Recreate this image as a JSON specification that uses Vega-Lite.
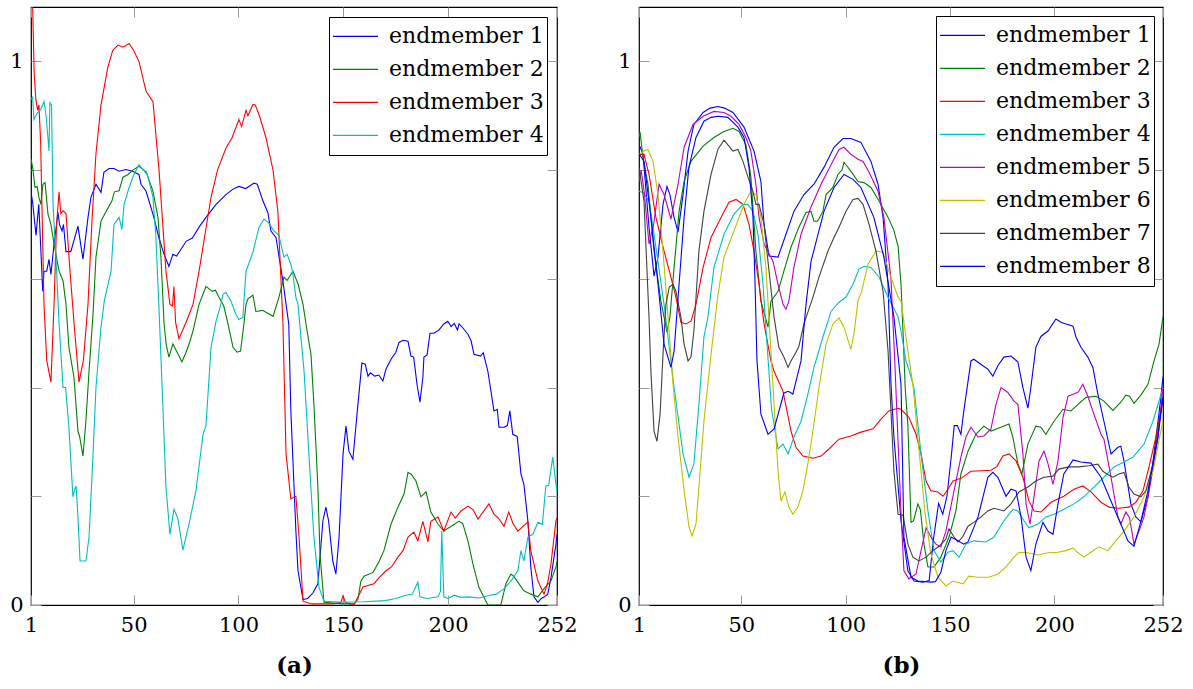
{
"$schema": "https://vega.github.io/schema/vega-lite/v6.json",
"padding": {"left": 9, "top": 3, "right": 0, "bottom": 0},
"background": "white",
"config": {
  "view": {"stroke": "black", "strokeWidth": 1.2},
  "axis": {"grid": false, "domain": false, "tickColor": "#9a9a9a", "tickSize": -10, "tickWidth": 1, "labelFont": "DejaVu Serif", "labelFontSize": 21, "labelColor": "black", "titleFont": "DejaVu Serif", "titleColor": "black"},
  "legend": {"labelFont": "DejaVu Serif", "labelFontSize": 22, "labelColor": "black"}
},
"datasets": {
"a": [
{"s":"endmember 1","x":1,"y":0.76},{"s":"endmember 1","x":1.8,"y":0.74},{"s":"endmember 1","x":3.4,"y":0.68},{"s":"endmember 1","x":4.7,"y":0.737},{"s":"endmember 1","x":6.6,"y":0.577},{"s":"endmember 1","x":7.2,"y":0.614},{"s":"endmember 1","x":8.5,"y":0.614},{"s":"endmember 1","x":9.6,"y":0.636},{"s":"endmember 1","x":10.5,"y":0.608},{"s":"endmember 1","x":12,"y":0.664},{"s":"endmember 1","x":13.9,"y":0.722},{"s":"endmember 1","x":14.6,"y":0.70},{"s":"endmember 1","x":15.8,"y":0.688},{"s":"endmember 1","x":16.5,"y":0.70},{"s":"endmember 1","x":17.7,"y":0.65},{"s":"endmember 1","x":20,"y":0.65},{"s":"endmember 1","x":23.4,"y":0.697},{"s":"endmember 1","x":25.8,"y":0.636},{"s":"endmember 1","x":28.2,"y":0.713},{"s":"endmember 1","x":29.6,"y":0.75},{"s":"endmember 1","x":32,"y":0.774},{"s":"endmember 1","x":34.4,"y":0.759},{"s":"endmember 1","x":35.8,"y":0.796},{"s":"endmember 1","x":38.2,"y":0.803},{"s":"endmember 1","x":40.6,"y":0.803},{"s":"endmember 1","x":43,"y":0.798},{"s":"endmember 1","x":46.3,"y":0.801},{"s":"endmember 1","x":49.5,"y":0.798},{"s":"endmember 1","x":52.5,"y":0.792},{"s":"endmember 1","x":53.5,"y":0.774},{"s":"endmember 1","x":55.9,"y":0.761},{"s":"endmember 1","x":59.2,"y":0.719},{"s":"endmember 1","x":62,"y":0.676},{"s":"endmember 1","x":64.5,"y":0.645},{"s":"endmember 1","x":66.8,"y":0.623},{"s":"endmember 1","x":68.7,"y":0.645},{"s":"endmember 1","x":70.5,"y":0.642},{"s":"endmember 1","x":75,"y":0.669},{"s":"endmember 1","x":78,"y":0.675},{"s":"endmember 1","x":81.2,"y":0.695},{"s":"endmember 1","x":84.5,"y":0.713},{"s":"endmember 1","x":89.3,"y":0.737},{"s":"endmember 1","x":94,"y":0.755},{"s":"endmember 1","x":97.4,"y":0.765},{"s":"endmember 1","x":100.2,"y":0.77},{"s":"endmember 1","x":103.5,"y":0.766},{"s":"endmember 1","x":107.4,"y":0.776},{"s":"endmember 1","x":109,"y":0.774},{"s":"endmember 1","x":111.7,"y":0.743},{"s":"endmember 1","x":114,"y":0.722},{"s":"endmember 1","x":115.5,"y":0.688},{"s":"endmember 1","x":117.9,"y":0.676},{"s":"endmember 1","x":121.2,"y":0.596},{"s":"endmember 1","x":124,"y":0.517},{"s":"endmember 1","x":125,"y":0.357},{"s":"endmember 1","x":127.4,"y":0.136},{"s":"endmember 1","x":128.4,"y":0.063},{"s":"endmember 1","x":130.8,"y":0.01},{"s":"endmember 1","x":133,"y":0.012},{"s":"endmember 1","x":135.5,"y":0.022},{"s":"endmember 1","x":137.9,"y":0.039},{"s":"endmember 1","x":140.3,"y":0.155},{"s":"endmember 1","x":141.7,"y":0.18},{"s":"endmember 1","x":143,"y":0.155},{"s":"endmember 1","x":145,"y":0.081},{"s":"endmember 1","x":146.5,"y":0.057},{"s":"endmember 1","x":148,"y":0.125},{"s":"endmember 1","x":149.9,"y":0.278},{"s":"endmember 1","x":151.3,"y":0.329},{"s":"endmember 1","x":152.7,"y":0.283},{"s":"endmember 1","x":154.6,"y":0.268},{"s":"endmember 1","x":157,"y":0.369},{"s":"endmember 1","x":158.9,"y":0.445},{"s":"endmember 1","x":160.5,"y":0.443},{"s":"endmember 1","x":161.8,"y":0.421},{"s":"endmember 1","x":163,"y":0.427},{"s":"endmember 1","x":165,"y":0.421},{"s":"endmember 1","x":167,"y":0.423},{"s":"endmember 1","x":168.9,"y":0.412},{"s":"endmember 1","x":170.4,"y":0.434},{"s":"endmember 1","x":172.8,"y":0.452},{"s":"endmember 1","x":175.1,"y":0.465},{"s":"endmember 1","x":176.6,"y":0.483},{"s":"endmember 1","x":178.5,"y":0.487},{"s":"endmember 1","x":180.9,"y":0.485},{"s":"endmember 1","x":182.3,"y":0.458},{"s":"endmember 1","x":183.6,"y":0.456},{"s":"endmember 1","x":185.2,"y":0.406},{"s":"endmember 1","x":186.6,"y":0.373},{"s":"endmember 1","x":188,"y":0.419},{"s":"endmember 1","x":188.5,"y":0.456},{"s":"endmember 1","x":190,"y":0.46},{"s":"endmember 1","x":191.4,"y":0.5},{"s":"endmember 1","x":193.3,"y":0.5},{"s":"endmember 1","x":195.7,"y":0.506},{"s":"endmember 1","x":198,"y":0.517},{"s":"endmember 1","x":199.9,"y":0.522},{"s":"endmember 1","x":201.5,"y":0.512},{"s":"endmember 1","x":203,"y":0.518},{"s":"endmember 1","x":204.5,"y":0.506},{"s":"endmember 1","x":205.3,"y":0.517},{"s":"endmember 1","x":207,"y":0.51},{"s":"endmember 1","x":209.5,"y":0.498},{"s":"endmember 1","x":211,"y":0.486},{"s":"endmember 1","x":212.4,"y":0.461},{"s":"endmember 1","x":215.5,"y":0.458},{"s":"endmember 1","x":216.8,"y":0.464},{"s":"endmember 1","x":219,"y":0.43},{"s":"endmember 1","x":220.5,"y":0.393},{"s":"endmember 1","x":221.9,"y":0.357},{"s":"endmember 1","x":223.5,"y":0.36},{"s":"endmember 1","x":224.3,"y":0.327},{"s":"endmember 1","x":226.7,"y":0.327},{"s":"endmember 1","x":228.3,"y":0.33},{"s":"endmember 1","x":229.5,"y":0.357},{"s":"endmember 1","x":230.9,"y":0.314},{"s":"endmember 1","x":233,"y":0.31},{"s":"endmember 1","x":234.8,"y":0.241},{"s":"endmember 1","x":236.2,"y":0.222},{"s":"endmember 1","x":238.1,"y":0.155},{"s":"endmember 1","x":239.5,"y":0.07},{"s":"endmember 1","x":241,"y":0.015},{"s":"endmember 1","x":242.9,"y":0.005},{"s":"endmember 1","x":244.5,"y":0.012},{"s":"endmember 1","x":246,"y":0.015},{"s":"endmember 1","x":247.6,"y":0.02},{"s":"endmember 1","x":249.1,"y":0.05},{"s":"endmember 1","x":251.5,"y":0.112},{"s":"endmember 1","x":252,"y":0.13},
{"s":"endmember 2","x":1,"y":0.82},{"s":"endmember 2","x":1.8,"y":0.805},{"s":"endmember 2","x":2.9,"y":0.768},{"s":"endmember 2","x":3.9,"y":0.77},{"s":"endmember 2","x":4.8,"y":0.75},{"s":"endmember 2","x":5.7,"y":0.737},{"s":"endmember 2","x":6.7,"y":0.774},{"s":"endmember 2","x":7.7,"y":0.777},{"s":"endmember 2","x":9.1,"y":0.719},{"s":"endmember 2","x":10.5,"y":0.70},{"s":"endmember 2","x":12,"y":0.664},{"s":"endmember 2","x":14.4,"y":0.614},{"s":"endmember 2","x":16.3,"y":0.596},{"s":"endmember 2","x":17.7,"y":0.553},{"s":"endmember 2","x":19.1,"y":0.474},{"s":"endmember 2","x":21.5,"y":0.419},{"s":"endmember 2","x":23.4,"y":0.32},{"s":"endmember 2","x":24.2,"y":0.31},{"s":"endmember 2","x":25.8,"y":0.274},{"s":"endmember 2","x":27.2,"y":0.338},{"s":"endmember 2","x":28.7,"y":0.43},{"s":"endmember 2","x":30.6,"y":0.535},{"s":"endmember 2","x":32,"y":0.64},{"s":"endmember 2","x":34.4,"y":0.706},{"s":"endmember 2","x":36.8,"y":0.724},{"s":"endmember 2","x":39.6,"y":0.743},{"s":"endmember 2","x":40.8,"y":0.76},{"s":"endmember 2","x":43,"y":0.762},{"s":"endmember 2","x":44.9,"y":0.787},{"s":"endmember 2","x":47.3,"y":0.792},{"s":"endmember 2","x":49.6,"y":0.80},{"s":"endmember 2","x":52.5,"y":0.807},{"s":"endmember 2","x":54.9,"y":0.80},{"s":"endmember 2","x":56.4,"y":0.792},{"s":"endmember 2","x":59.2,"y":0.761},{"s":"endmember 2","x":61.6,"y":0.713},{"s":"endmember 2","x":63,"y":0.64},{"s":"endmember 2","x":64.5,"y":0.517},{"s":"endmember 2","x":65.5,"y":0.48},{"s":"endmember 2","x":66.8,"y":0.456},{"s":"endmember 2","x":68.7,"y":0.48},{"s":"endmember 2","x":71,"y":0.463},{"s":"endmember 2","x":73,"y":0.447},{"s":"endmember 2","x":75,"y":0.465},{"s":"endmember 2","x":76.4,"y":0.48},{"s":"endmember 2","x":78.3,"y":0.504},{"s":"endmember 2","x":81.2,"y":0.553},{"s":"endmember 2","x":84.5,"y":0.586},{"s":"endmember 2","x":87.5,"y":0.577},{"s":"endmember 2","x":89,"y":0.579},{"s":"endmember 2","x":90.7,"y":0.566},{"s":"endmember 2","x":93,"y":0.55},{"s":"endmember 2","x":95,"y":0.517},{"s":"endmember 2","x":97.4,"y":0.474},{"s":"endmember 2","x":99.3,"y":0.465},{"s":"endmember 2","x":101,"y":0.467},{"s":"endmember 2","x":102.6,"y":0.517},{"s":"endmember 2","x":103.6,"y":0.553},{"s":"endmember 2","x":104.5,"y":0.563},{"s":"endmember 2","x":106.9,"y":0.57},{"s":"endmember 2","x":108.3,"y":0.54},{"s":"endmember 2","x":111.5,"y":0.542},{"s":"endmember 2","x":116.5,"y":0.531},{"s":"endmember 2","x":119.3,"y":0.566},{"s":"endmember 2","x":121.7,"y":0.603},{"s":"endmember 2","x":123.2,"y":0.597},{"s":"endmember 2","x":126,"y":0.614},{"s":"endmember 2","x":128.5,"y":0.59},{"s":"endmember 2","x":130.8,"y":0.553},{"s":"endmember 2","x":132.5,"y":0.51},{"s":"endmember 2","x":134.6,"y":0.461},{"s":"endmember 2","x":136,"y":0.369},{"s":"endmember 2","x":137.9,"y":0.217},{"s":"endmember 2","x":138.9,"y":0.094},{"s":"endmember 2","x":140.8,"y":0.005},{"s":"endmember 2","x":150,"y":0.002},{"s":"endmember 2","x":155,"y":0.002},{"s":"endmember 2","x":157,"y":0.01},{"s":"endmember 2","x":158.4,"y":0.044},{"s":"endmember 2","x":159.9,"y":0.053},{"s":"endmember 2","x":164.2,"y":0.06},{"s":"endmember 2","x":167,"y":0.079},{"s":"endmember 2","x":169.4,"y":0.1},{"s":"endmember 2","x":172.8,"y":0.149},{"s":"endmember 2","x":176.1,"y":0.18},{"s":"endmember 2","x":179,"y":0.204},{"s":"endmember 2","x":180.9,"y":0.244},{"s":"endmember 2","x":182.5,"y":0.24},{"s":"endmember 2","x":184.7,"y":0.228},{"s":"endmember 2","x":187.1,"y":0.199},{"s":"endmember 2","x":189.5,"y":0.208},{"s":"endmember 2","x":191.8,"y":0.171},{"s":"endmember 2","x":195.2,"y":0.149},{"s":"endmember 2","x":198,"y":0.136},{"s":"endmember 2","x":201.5,"y":0.145},{"s":"endmember 2","x":205.2,"y":0.154},{"s":"endmember 2","x":207,"y":0.15},{"s":"endmember 2","x":209.5,"y":0.118},{"s":"endmember 2","x":211.9,"y":0.075},{"s":"endmember 2","x":214.7,"y":0.033},{"s":"endmember 2","x":219,"y":0},{"s":"endmember 2","x":225.2,"y":0},{"s":"endmember 2","x":227.6,"y":0.039},{"s":"endmember 2","x":230,"y":0.057},{"s":"endmember 2","x":231.5,"y":0.052},{"s":"endmember 2","x":236.2,"y":0.026},{"s":"endmember 2","x":239.5,"y":0.02},{"s":"endmember 2","x":242.9,"y":0.015},{"s":"endmember 2","x":245.8,"y":0.03},{"s":"endmember 2","x":249.1,"y":0.044},{"s":"endmember 2","x":251.5,"y":0.07},{"s":"endmember 2","x":252,"y":0.08},
{"s":"endmember 3","x":1,"y":1.1},{"s":"endmember 3","x":1.8,"y":1.1},{"s":"endmember 3","x":2.5,"y":0.98},{"s":"endmember 3","x":3.3,"y":0.93},{"s":"endmember 3","x":4.2,"y":0.91},{"s":"endmember 3","x":4.8,"y":0.92},{"s":"endmember 3","x":5.6,"y":0.85},{"s":"endmember 3","x":7.2,"y":0.553},{"s":"endmember 3","x":8.5,"y":0.45},{"s":"endmember 3","x":10.5,"y":0.41},{"s":"endmember 3","x":12,"y":0.553},{"s":"endmember 3","x":13.2,"y":0.70},{"s":"endmember 3","x":14.4,"y":0.76},{"s":"endmember 3","x":15.2,"y":0.72},{"s":"endmember 3","x":16.3,"y":0.725},{"s":"endmember 3","x":17.7,"y":0.72},{"s":"endmember 3","x":19.5,"y":0.62},{"s":"endmember 3","x":21.5,"y":0.52},{"s":"endmember 3","x":23.9,"y":0.41},{"s":"endmember 3","x":26,"y":0.45},{"s":"endmember 3","x":28.2,"y":0.553},{"s":"endmember 3","x":30,"y":0.70},{"s":"endmember 3","x":32,"y":0.83},{"s":"endmember 3","x":34.4,"y":0.92},{"s":"endmember 3","x":37.7,"y":0.99},{"s":"endmember 3","x":40,"y":1.02},{"s":"endmember 3","x":42.5,"y":1.03},{"s":"endmember 3","x":44.9,"y":1.026},{"s":"endmember 3","x":47.8,"y":1.033},{"s":"endmember 3","x":50,"y":1.02},{"s":"endmember 3","x":52.5,"y":1.0},{"s":"endmember 3","x":55.9,"y":0.945},{"s":"endmember 3","x":59.2,"y":0.926},{"s":"endmember 3","x":62.1,"y":0.80},{"s":"endmember 3","x":65.4,"y":0.614},{"s":"endmember 3","x":67.3,"y":0.553},{"s":"endmember 3","x":68.5,"y":0.55},{"s":"endmember 3","x":69.2,"y":0.586},{"s":"endmember 3","x":70,"y":0.52},{"s":"endmember 3","x":71.6,"y":0.49},{"s":"endmember 3","x":75,"y":0.52},{"s":"endmember 3","x":78.3,"y":0.553},{"s":"endmember 3","x":81.2,"y":0.614},{"s":"endmember 3","x":86.9,"y":0.75},{"s":"endmember 3","x":90,"y":0.80},{"s":"endmember 3","x":94,"y":0.84},{"s":"endmember 3","x":97,"y":0.86},{"s":"endmember 3","x":100.2,"y":0.893},{"s":"endmember 3","x":101.5,"y":0.88},{"s":"endmember 3","x":103.6,"y":0.91},{"s":"endmember 3","x":104.5,"y":0.90},{"s":"endmember 3","x":106.9,"y":0.921},{"s":"endmember 3","x":108,"y":0.92},{"s":"endmember 3","x":110,"y":0.90},{"s":"endmember 3","x":113.1,"y":0.86},{"s":"endmember 3","x":116.5,"y":0.80},{"s":"endmember 3","x":118.8,"y":0.724},{"s":"endmember 3","x":121.2,"y":0.52},{"s":"endmember 3","x":122.7,"y":0.278},{"s":"endmember 3","x":125,"y":0.195},{"s":"endmember 3","x":127.4,"y":0.2},{"s":"endmember 3","x":128.9,"y":0.125},{"s":"endmember 3","x":130.8,"y":0.007},{"s":"endmember 3","x":135,"y":0.002},{"s":"endmember 3","x":140,"y":0.002},{"s":"endmember 3","x":145,"y":0.002},{"s":"endmember 3","x":148.9,"y":0.005},{"s":"endmember 3","x":149.9,"y":0.017},{"s":"endmember 3","x":151,"y":0.005},{"s":"endmember 3","x":155.1,"y":0},{"s":"endmember 3","x":159.4,"y":0.033},{"s":"endmember 3","x":164.6,"y":0.039},{"s":"endmember 3","x":167,"y":0.05},{"s":"endmember 3","x":170.4,"y":0.063},{"s":"endmember 3","x":173,"y":0.07},{"s":"endmember 3","x":176.1,"y":0.088},{"s":"endmember 3","x":178.5,"y":0.1},{"s":"endmember 3","x":180.9,"y":0.125},{"s":"endmember 3","x":183.7,"y":0.134},{"s":"endmember 3","x":185.6,"y":0.118},{"s":"endmember 3","x":188,"y":0.154},{"s":"endmember 3","x":190.4,"y":0.116},{"s":"endmember 3","x":191.8,"y":0.154},{"s":"endmember 3","x":195.2,"y":0.162},{"s":"endmember 3","x":198,"y":0.136},{"s":"endmember 3","x":201.4,"y":0.171},{"s":"endmember 3","x":203.5,"y":0.16},{"s":"endmember 3","x":206.2,"y":0.173},{"s":"endmember 3","x":209.5,"y":0.182},{"s":"endmember 3","x":212,"y":0.175},{"s":"endmember 3","x":214.3,"y":0.158},{"s":"endmember 3","x":219.5,"y":0.186},{"s":"endmember 3","x":221.9,"y":0.167},{"s":"endmember 3","x":224,"y":0.16},{"s":"endmember 3","x":226.7,"y":0.145},{"s":"endmember 3","x":229,"y":0.171},{"s":"endmember 3","x":231,"y":0.15},{"s":"endmember 3","x":233.3,"y":0.136},{"s":"endmember 3","x":238.1,"y":0.153},{"s":"endmember 3","x":239.5,"y":0.1},{"s":"endmember 3","x":242.9,"y":0.044},{"s":"endmember 3","x":245.8,"y":0.02},{"s":"endmember 3","x":247.5,"y":0.04},{"s":"endmember 3","x":249.1,"y":0.075},{"s":"endmember 3","x":251.5,"y":0.155},{"s":"endmember 3","x":252,"y":0.16},
{"s":"endmember 4","x":1,"y":0.93},{"s":"endmember 4","x":1.8,"y":0.934},{"s":"endmember 4","x":2.4,"y":0.893},{"s":"endmember 4","x":4,"y":0.905},{"s":"endmember 4","x":5.5,"y":0.91},{"s":"endmember 4","x":7.2,"y":0.926},{"s":"endmember 4","x":8.2,"y":0.90},{"s":"endmember 4","x":9.6,"y":0.835},{"s":"endmember 4","x":10,"y":0.924},{"s":"endmember 4","x":10.8,"y":0.92},{"s":"endmember 4","x":11.5,"y":0.737},{"s":"endmember 4","x":12.9,"y":0.64},{"s":"endmember 4","x":14.4,"y":0.517},{"s":"endmember 4","x":16.3,"y":0.40},{"s":"endmember 4","x":17.5,"y":0.40},{"s":"endmember 4","x":19.1,"y":0.327},{"s":"endmember 4","x":21,"y":0.199},{"s":"endmember 4","x":21.7,"y":0.21},{"s":"endmember 4","x":22.5,"y":0.219},{"s":"endmember 4","x":23.3,"y":0.17},{"s":"endmember 4","x":24.4,"y":0.081},{"s":"endmember 4","x":27.2,"y":0.081},{"s":"endmember 4","x":28.7,"y":0.125},{"s":"endmember 4","x":30.6,"y":0.278},{"s":"endmember 4","x":32,"y":0.40},{"s":"endmember 4","x":34.4,"y":0.511},{"s":"endmember 4","x":36,"y":0.56},{"s":"endmember 4","x":39.2,"y":0.614},{"s":"endmember 4","x":40.6,"y":0.70},{"s":"endmember 4","x":43,"y":0.713},{"s":"endmember 4","x":44.4,"y":0.691},{"s":"endmember 4","x":45.4,"y":0.737},{"s":"endmember 4","x":47.8,"y":0.768},{"s":"endmember 4","x":50.1,"y":0.792},{"s":"endmember 4","x":52.5,"y":0.81},{"s":"endmember 4","x":54.5,"y":0.80},{"s":"endmember 4","x":56,"y":0.797},{"s":"endmember 4","x":57.3,"y":0.78},{"s":"endmember 4","x":59.2,"y":0.75},{"s":"endmember 4","x":60.6,"y":0.676},{"s":"endmember 4","x":62,"y":0.553},{"s":"endmember 4","x":63.9,"y":0.369},{"s":"endmember 4","x":65.4,"y":0.217},{"s":"endmember 4","x":67.3,"y":0.13},{"s":"endmember 4","x":69.2,"y":0.176},{"s":"endmember 4","x":71,"y":0.16},{"s":"endmember 4","x":73.5,"y":0.101},{"s":"endmember 4","x":76.4,"y":0.149},{"s":"endmember 4","x":79.7,"y":0.21},{"s":"endmember 4","x":83.1,"y":0.314},{"s":"endmember 4","x":84.5,"y":0.33},{"s":"endmember 4","x":86.9,"y":0.474},{"s":"endmember 4","x":89.3,"y":0.522},{"s":"endmember 4","x":91.6,"y":0.553},{"s":"endmember 4","x":92.6,"y":0.572},{"s":"endmember 4","x":94,"y":0.575},{"s":"endmember 4","x":96.4,"y":0.559},{"s":"endmember 4","x":98.8,"y":0.535},{"s":"endmember 4","x":100.2,"y":0.525},{"s":"endmember 4","x":102.1,"y":0.529},{"s":"endmember 4","x":103.6,"y":0.614},{"s":"endmember 4","x":106.9,"y":0.649},{"s":"endmember 4","x":109.8,"y":0.695},{"s":"endmember 4","x":112.2,"y":0.71},{"s":"endmember 4","x":114.6,"y":0.702},{"s":"endmember 4","x":116.9,"y":0.688},{"s":"endmember 4","x":119.3,"y":0.68},{"s":"endmember 4","x":121.7,"y":0.64},{"s":"endmember 4","x":123.2,"y":0.645},{"s":"endmember 4","x":125,"y":0.627},{"s":"endmember 4","x":126,"y":0.608},{"s":"endmember 4","x":127.4,"y":0.566},{"s":"endmember 4","x":128.4,"y":0.553},{"s":"endmember 4","x":131.3,"y":0.43},{"s":"endmember 4","x":133.6,"y":0.278},{"s":"endmember 4","x":136,"y":0.125},{"s":"endmember 4","x":138.4,"y":0.033},{"s":"endmember 4","x":140.8,"y":0.007},{"s":"endmember 4","x":150,"y":0.005},{"s":"endmember 4","x":160,"y":0.006},{"s":"endmember 4","x":170,"y":0.008},{"s":"endmember 4","x":175,"y":0.012},{"s":"endmember 4","x":179,"y":0.017},{"s":"endmember 4","x":183,"y":0.02},{"s":"endmember 4","x":185.6,"y":0.042},{"s":"endmember 4","x":186.6,"y":0.015},{"s":"endmember 4","x":190,"y":0.012},{"s":"endmember 4","x":195.2,"y":0.015},{"s":"endmember 4","x":196.4,"y":0.025},{"s":"endmember 4","x":197,"y":0.136},{"s":"endmember 4","x":198,"y":0.015},{"s":"endmember 4","x":200,"y":0.012},{"s":"endmember 4","x":203,"y":0.018},{"s":"endmember 4","x":206,"y":0.014},{"s":"endmember 4","x":210,"y":0.015},{"s":"endmember 4","x":215,"y":0.013},{"s":"endmember 4","x":220,"y":0.018},{"s":"endmember 4","x":223,"y":0.02},{"s":"endmember 4","x":226.7,"y":0.03},{"s":"endmember 4","x":230,"y":0.044},{"s":"endmember 4","x":233.3,"y":0.063},{"s":"endmember 4","x":234.8,"y":0.1},{"s":"endmember 4","x":236.2,"y":0.081},{"s":"endmember 4","x":238.1,"y":0.125},{"s":"endmember 4","x":240.5,"y":0.13},{"s":"endmember 4","x":242.9,"y":0.152},{"s":"endmember 4","x":245,"y":0.148},{"s":"endmember 4","x":246.7,"y":0.219},{"s":"endmember 4","x":248,"y":0.22},{"s":"endmember 4","x":250,"y":0.272},{"s":"endmember 4","x":251.5,"y":0.222},{"s":"endmember 4","x":252,"y":0.21}
],
"b": [
{"s":"endmember 1","x":1,"y":0.847},{"s":"endmember 1","x":2.9,"y":0.83},{"s":"endmember 1","x":5.8,"y":0.695},{"s":"endmember 1","x":8.2,"y":0.605},{"s":"endmember 1","x":10.1,"y":0.64},{"s":"endmember 1","x":12.5,"y":0.737},{"s":"endmember 1","x":14.4,"y":0.77},{"s":"endmember 1","x":15.8,"y":0.755},{"s":"endmember 1","x":17.8,"y":0.713},{"s":"endmember 1","x":19.7,"y":0.686},{"s":"endmember 1","x":22.1,"y":0.755},{"s":"endmember 1","x":24.5,"y":0.835},{"s":"endmember 1","x":27.3,"y":0.884},{"s":"endmember 1","x":31.7,"y":0.906},{"s":"endmember 1","x":35,"y":0.914},{"s":"endmember 1","x":38.8,"y":0.917},{"s":"endmember 1","x":42,"y":0.914},{"s":"endmember 1","x":46,"y":0.906},{"s":"endmember 1","x":51.3,"y":0.879},{"s":"endmember 1","x":56.1,"y":0.835},{"s":"endmember 1","x":59.4,"y":0.779},{"s":"endmember 1","x":60.9,"y":0.70},{"s":"endmember 1","x":63.3,"y":0.642},{"s":"endmember 1","x":67.6,"y":0.64},{"s":"endmember 1","x":71.4,"y":0.682},{"s":"endmember 1","x":75.2,"y":0.724},{"s":"endmember 1","x":80,"y":0.755},{"s":"endmember 1","x":84.8,"y":0.774},{"s":"endmember 1","x":89.6,"y":0.805},{"s":"endmember 1","x":94.4,"y":0.842},{"s":"endmember 1","x":98.7,"y":0.858},{"s":"endmember 1","x":102.5,"y":0.858},{"s":"endmember 1","x":107.3,"y":0.851},{"s":"endmember 1","x":112.1,"y":0.816},{"s":"endmember 1","x":115.5,"y":0.774},{"s":"endmember 1","x":117.9,"y":0.713},{"s":"endmember 1","x":120.3,"y":0.59},{"s":"endmember 1","x":121.7,"y":0.406},{"s":"endmember 1","x":123.1,"y":0.309},{"s":"endmember 1","x":126.5,"y":0.155},{"s":"endmember 1","x":129.8,"y":0.063},{"s":"endmember 1","x":132.7,"y":0.044},{"s":"endmember 1","x":137,"y":0.042},{"s":"endmember 1","x":140,"y":0.045},{"s":"endmember 1","x":142,"y":0.12},{"s":"endmember 1","x":144.5,"y":0.187},{"s":"endmember 1","x":146.5,"y":0.167},{"s":"endmember 1","x":148.5,"y":0.2},{"s":"endmember 1","x":150.5,"y":0.27},{"s":"endmember 1","x":152,"y":0.33},{"s":"endmember 1","x":153.5,"y":0.33},{"s":"endmember 1","x":155.2,"y":0.314},{"s":"endmember 1","x":156.6,"y":0.357},{"s":"endmember 1","x":160,"y":0.449},{"s":"endmember 1","x":161.4,"y":0.452},{"s":"endmember 1","x":165.7,"y":0.44},{"s":"endmember 1","x":168.1,"y":0.434},{"s":"endmember 1","x":170.5,"y":0.421},{"s":"endmember 1","x":172.9,"y":0.44},{"s":"endmember 1","x":175.8,"y":0.456},{"s":"endmember 1","x":179.2,"y":0.458},{"s":"endmember 1","x":182.5,"y":0.447},{"s":"endmember 1","x":184.9,"y":0.40},{"s":"endmember 1","x":187.3,"y":0.362},{"s":"endmember 1","x":188.7,"y":0.40},{"s":"endmember 1","x":191.1,"y":0.474},{"s":"endmember 1","x":193.5,"y":0.494},{"s":"endmember 1","x":196.9,"y":0.504},{"s":"endmember 1","x":200.7,"y":0.526},{"s":"endmember 1","x":203.1,"y":0.52},{"s":"endmember 1","x":205.5,"y":0.517},{"s":"endmember 1","x":208.9,"y":0.513},{"s":"endmember 1","x":210.3,"y":0.493},{"s":"endmember 1","x":212.7,"y":0.474},{"s":"endmember 1","x":216,"y":0.456},{"s":"endmember 1","x":218.4,"y":0.437},{"s":"endmember 1","x":220.8,"y":0.388},{"s":"endmember 1","x":223.7,"y":0.338},{"s":"endmember 1","x":227.1,"y":0.278},{"s":"endmember 1","x":230.4,"y":0.29},{"s":"endmember 1","x":231.8,"y":0.292},{"s":"endmember 1","x":233.3,"y":0.265},{"s":"endmember 1","x":236.6,"y":0.186},{"s":"endmember 1","x":239,"y":0.162},{"s":"endmember 1","x":241.4,"y":0.153},{"s":"endmember 1","x":244.8,"y":0.199},{"s":"endmember 1","x":247.7,"y":0.278},{"s":"endmember 1","x":251,"y":0.382},{"s":"endmember 1","x":252,"y":0.42},
{"s":"endmember 2","x":1,"y":0.86},{"s":"endmember 2","x":1.5,"y":0.87},{"s":"endmember 2","x":3,"y":0.82},{"s":"endmember 2","x":5.3,"y":0.774},{"s":"endmember 2","x":8.2,"y":0.651},{"s":"endmember 2","x":11.5,"y":0.559},{"s":"endmember 2","x":14.4,"y":0.502},{"s":"endmember 2","x":15.8,"y":0.529},{"s":"endmember 2","x":17.8,"y":0.621},{"s":"endmember 2","x":20.2,"y":0.724},{"s":"endmember 2","x":22.6,"y":0.779},{"s":"endmember 2","x":25.9,"y":0.816},{"s":"endmember 2","x":31.7,"y":0.844},{"s":"endmember 2","x":36.9,"y":0.86},{"s":"endmember 2","x":41.2,"y":0.87},{"s":"endmember 2","x":46,"y":0.877},{"s":"endmember 2","x":48.9,"y":0.871},{"s":"endmember 2","x":52.2,"y":0.847},{"s":"endmember 2","x":54.6,"y":0.787},{"s":"endmember 2","x":57,"y":0.651},{"s":"endmember 2","x":59.4,"y":0.559},{"s":"endmember 2","x":62.8,"y":0.511},{"s":"endmember 2","x":64.2,"y":0.559},{"s":"endmember 2","x":67.6,"y":0.577},{"s":"endmember 2","x":70.4,"y":0.614},{"s":"endmember 2","x":73.8,"y":0.658},{"s":"endmember 2","x":77.6,"y":0.695},{"s":"endmember 2","x":81,"y":0.722},{"s":"endmember 2","x":83.4,"y":0.724},{"s":"endmember 2","x":84.8,"y":0.706},{"s":"endmember 2","x":86.5,"y":0.706},{"s":"endmember 2","x":89.1,"y":0.724},{"s":"endmember 2","x":90.6,"y":0.755},{"s":"endmember 2","x":93.9,"y":0.768},{"s":"endmember 2","x":96.3,"y":0.792},{"s":"endmember 2","x":98.2,"y":0.80},{"s":"endmember 2","x":99.2,"y":0.814},{"s":"endmember 2","x":100.5,"y":0.808},{"s":"endmember 2","x":102.5,"y":0.798},{"s":"endmember 2","x":105.9,"y":0.779},{"s":"endmember 2","x":108.8,"y":0.777},{"s":"endmember 2","x":112.1,"y":0.768},{"s":"endmember 2","x":116,"y":0.743},{"s":"endmember 2","x":120.3,"y":0.713},{"s":"endmember 2","x":123,"y":0.69},{"s":"endmember 2","x":125.1,"y":0.66},{"s":"endmember 2","x":126.5,"y":0.59},{"s":"endmember 2","x":127.5,"y":0.50},{"s":"endmember 2","x":128.5,"y":0.40},{"s":"endmember 2","x":129.8,"y":0.33},{"s":"endmember 2","x":131.3,"y":0.152},{"s":"endmember 2","x":132.5,"y":0.155},{"s":"endmember 2","x":134.6,"y":0.186},{"s":"endmember 2","x":135.8,"y":0.175},{"s":"endmember 2","x":137.5,"y":0.112},{"s":"endmember 2","x":139.4,"y":0.07},{"s":"endmember 2","x":142.3,"y":0.07},{"s":"endmember 2","x":145.6,"y":0.088},{"s":"endmember 2","x":149.5,"y":0.125},{"s":"endmember 2","x":152.8,"y":0.173},{"s":"endmember 2","x":155.2,"y":0.241},{"s":"endmember 2","x":158.6,"y":0.283},{"s":"endmember 2","x":162.4,"y":0.314},{"s":"endmember 2","x":166.2,"y":0.329},{"s":"endmember 2","x":169.6,"y":0.32},{"s":"endmember 2","x":174.4,"y":0.327},{"s":"endmember 2","x":178.2,"y":0.333},{"s":"endmember 2","x":180,"y":0.31},{"s":"endmember 2","x":182.5,"y":0.26},{"s":"endmember 2","x":184.4,"y":0.241},{"s":"endmember 2","x":187.3,"y":0.296},{"s":"endmember 2","x":191.1,"y":0.329},{"s":"endmember 2","x":193.5,"y":0.327},{"s":"endmember 2","x":195.9,"y":0.314},{"s":"endmember 2","x":199.8,"y":0.338},{"s":"endmember 2","x":204.1,"y":0.36},{"s":"endmember 2","x":207.9,"y":0.357},{"s":"endmember 2","x":211.3,"y":0.369},{"s":"endmember 2","x":215.1,"y":0.382},{"s":"endmember 2","x":219.9,"y":0.384},{"s":"endmember 2","x":223.7,"y":0.375},{"s":"endmember 2","x":228,"y":0.358},{"s":"endmember 2","x":231.8,"y":0.373},{"s":"endmember 2","x":234.2,"y":0.386},{"s":"endmember 2","x":236,"y":0.384},{"s":"endmember 2","x":238.1,"y":0.371},{"s":"endmember 2","x":241.4,"y":0.386},{"s":"endmember 2","x":244.8,"y":0.406},{"s":"endmember 2","x":247.7,"y":0.449},{"s":"endmember 2","x":250.1,"y":0.48},{"s":"endmember 2","x":252,"y":0.53},
{"s":"endmember 3","x":1,"y":0.829},{"s":"endmember 3","x":3.4,"y":0.829},{"s":"endmember 3","x":5.8,"y":0.792},{"s":"endmember 3","x":9.1,"y":0.713},{"s":"endmember 3","x":13,"y":0.651},{"s":"endmember 3","x":16.3,"y":0.603},{"s":"endmember 3","x":18.7,"y":0.566},{"s":"endmember 3","x":21.1,"y":0.52},{"s":"endmember 3","x":23.5,"y":0.517},{"s":"endmember 3","x":25.9,"y":0.522},{"s":"endmember 3","x":28.3,"y":0.553},{"s":"endmember 3","x":31.7,"y":0.621},{"s":"endmember 3","x":35.5,"y":0.676},{"s":"endmember 3","x":40.3,"y":0.713},{"s":"endmember 3","x":44.1,"y":0.741},{"s":"endmember 3","x":47.5,"y":0.746},{"s":"endmember 3","x":50.8,"y":0.737},{"s":"endmember 3","x":53.7,"y":0.70},{"s":"endmember 3","x":56.1,"y":0.651},{"s":"endmember 3","x":58.5,"y":0.59},{"s":"endmember 3","x":60.9,"y":0.517},{"s":"endmember 3","x":64.2,"y":0.449},{"s":"endmember 3","x":65.7,"y":0.43},{"s":"endmember 3","x":70,"y":0.393},{"s":"endmember 3","x":73.8,"y":0.32},{"s":"endmember 3","x":76.2,"y":0.29},{"s":"endmember 3","x":79.5,"y":0.274},{"s":"endmember 3","x":84.3,"y":0.27},{"s":"endmember 3","x":88.2,"y":0.274},{"s":"endmember 3","x":92,"y":0.287},{"s":"endmember 3","x":96.8,"y":0.305},{"s":"endmember 3","x":102.5,"y":0.311},{"s":"endmember 3","x":107.3,"y":0.318},{"s":"endmember 3","x":113.1,"y":0.324},{"s":"endmember 3","x":116.9,"y":0.342},{"s":"endmember 3","x":120.7,"y":0.357},{"s":"endmember 3","x":125,"y":0.362},{"s":"endmember 3","x":126.5,"y":0.36},{"s":"endmember 3","x":130.3,"y":0.345},{"s":"endmember 3","x":133.7,"y":0.314},{"s":"endmember 3","x":136.1,"y":0.278},{"s":"endmember 3","x":138.5,"y":0.228},{"s":"endmember 3","x":140.8,"y":0.21},{"s":"endmember 3","x":144.2,"y":0.208},{"s":"endmember 3","x":146.6,"y":0.2},{"s":"endmember 3","x":149,"y":0.213},{"s":"endmember 3","x":151.4,"y":0.228},{"s":"endmember 3","x":155.2,"y":0.233},{"s":"endmember 3","x":160,"y":0.246},{"s":"endmember 3","x":165,"y":0.247},{"s":"endmember 3","x":169.6,"y":0.248},{"s":"endmember 3","x":172.5,"y":0.255},{"s":"endmember 3","x":175.3,"y":0.274},{"s":"endmember 3","x":178.2,"y":0.278},{"s":"endmember 3","x":181.6,"y":0.265},{"s":"endmember 3","x":184.9,"y":0.235},{"s":"endmember 3","x":187.8,"y":0.191},{"s":"endmember 3","x":190.2,"y":0.173},{"s":"endmember 3","x":193.5,"y":0.171},{"s":"endmember 3","x":198.3,"y":0.189},{"s":"endmember 3","x":204.5,"y":0.2},{"s":"endmember 3","x":209.3,"y":0.213},{"s":"endmember 3","x":213.6,"y":0.219},{"s":"endmember 3","x":217.5,"y":0.208},{"s":"endmember 3","x":222.3,"y":0.189},{"s":"endmember 3","x":226.1,"y":0.18},{"s":"endmember 3","x":230.4,"y":0.178},{"s":"endmember 3","x":235.7,"y":0.18},{"s":"endmember 3","x":239,"y":0.189},{"s":"endmember 3","x":242.4,"y":0.21},{"s":"endmember 3","x":245.3,"y":0.254},{"s":"endmember 3","x":248.6,"y":0.309},{"s":"endmember 3","x":252,"y":0.38},
{"s":"endmember 4","x":1,"y":0.761},{"s":"endmember 4","x":2.9,"y":0.759},{"s":"endmember 4","x":5.8,"y":0.743},{"s":"endmember 4","x":8.2,"y":0.682},{"s":"endmember 4","x":10.5,"y":0.62},{"s":"endmember 4","x":13,"y":0.553},{"s":"endmember 4","x":17.8,"y":0.40},{"s":"endmember 4","x":22.1,"y":0.278},{"s":"endmember 4","x":25,"y":0.235},{"s":"endmember 4","x":27.3,"y":0.26},{"s":"endmember 4","x":29.7,"y":0.369},{"s":"endmember 4","x":32.1,"y":0.493},{"s":"endmember 4","x":34,"y":0.529},{"s":"endmember 4","x":36.9,"y":0.621},{"s":"endmember 4","x":41.7,"y":0.682},{"s":"endmember 4","x":46.5,"y":0.719},{"s":"endmember 4","x":50.8,"y":0.737},{"s":"endmember 4","x":53.2,"y":0.737},{"s":"endmember 4","x":55.6,"y":0.724},{"s":"endmember 4","x":58,"y":0.682},{"s":"endmember 4","x":60.4,"y":0.59},{"s":"endmember 4","x":62.5,"y":0.47},{"s":"endmember 4","x":64.5,"y":0.36},{"s":"endmember 4","x":67.6,"y":0.287},{"s":"endmember 4","x":70,"y":0.296},{"s":"endmember 4","x":72.4,"y":0.278},{"s":"endmember 4","x":75.2,"y":0.309},{"s":"endmember 4","x":78.6,"y":0.338},{"s":"endmember 4","x":81.9,"y":0.388},{"s":"endmember 4","x":84.8,"y":0.437},{"s":"endmember 4","x":89.1,"y":0.493},{"s":"endmember 4","x":93,"y":0.54},{"s":"endmember 4","x":96.8,"y":0.557},{"s":"endmember 4","x":100.1,"y":0.566},{"s":"endmember 4","x":103.5,"y":0.59},{"s":"endmember 4","x":106.4,"y":0.618},{"s":"endmember 4","x":108.8,"y":0.623},{"s":"endmember 4","x":112.1,"y":0.621},{"s":"endmember 4","x":116,"y":0.603},{"s":"endmember 4","x":120.3,"y":0.566},{"s":"endmember 4","x":125.1,"y":0.53},{"s":"endmember 4","x":126.5,"y":0.504},{"s":"endmember 4","x":128.9,"y":0.449},{"s":"endmember 4","x":130.5,"y":0.43},{"s":"endmember 4","x":132.7,"y":0.40},{"s":"endmember 4","x":136.1,"y":0.278},{"s":"endmember 4","x":139.4,"y":0.173},{"s":"endmember 4","x":142.3,"y":0.1},{"s":"endmember 4","x":145.6,"y":0.079},{"s":"endmember 4","x":149,"y":0.097},{"s":"endmember 4","x":151.4,"y":0.1},{"s":"endmember 4","x":154.3,"y":0.088},{"s":"endmember 4","x":157.6,"y":0.112},{"s":"endmember 4","x":161.4,"y":0.118},{"s":"endmember 4","x":167.2,"y":0.116},{"s":"endmember 4","x":171,"y":0.125},{"s":"endmember 4","x":175.8,"y":0.155},{"s":"endmember 4","x":180.1,"y":0.176},{"s":"endmember 4","x":182.5,"y":0.173},{"s":"endmember 4","x":185.4,"y":0.155},{"s":"endmember 4","x":187.8,"y":0.142},{"s":"endmember 4","x":192.1,"y":0.149},{"s":"endmember 4","x":195.9,"y":0.162},{"s":"endmember 4","x":199.8,"y":0.167},{"s":"endmember 4","x":204.5,"y":0.176},{"s":"endmember 4","x":209.3,"y":0.186},{"s":"endmember 4","x":214.1,"y":0.199},{"s":"endmember 4","x":218.9,"y":0.217},{"s":"endmember 4","x":223.7,"y":0.235},{"s":"endmember 4","x":228.5,"y":0.254},{"s":"endmember 4","x":233.3,"y":0.263},{"s":"endmember 4","x":237.6,"y":0.272},{"s":"endmember 4","x":242.9,"y":0.296},{"s":"endmember 4","x":247.2,"y":0.338},{"s":"endmember 4","x":252,"y":0.40},
{"s":"endmember 5","x":1,"y":0.779},{"s":"endmember 5","x":2,"y":0.80},{"s":"endmember 5","x":3.5,"y":0.76},{"s":"endmember 5","x":5.8,"y":0.664},{"s":"endmember 5","x":8,"y":0.70},{"s":"endmember 5","x":10.6,"y":0.774},{"s":"endmember 5","x":13,"y":0.755},{"s":"endmember 5","x":16.3,"y":0.71},{"s":"endmember 5","x":19.7,"y":0.774},{"s":"endmember 5","x":22.6,"y":0.842},{"s":"endmember 5","x":26.9,"y":0.884},{"s":"endmember 5","x":31.7,"y":0.899},{"s":"endmember 5","x":36.9,"y":0.908},{"s":"endmember 5","x":41.7,"y":0.906},{"s":"endmember 5","x":45.1,"y":0.899},{"s":"endmember 5","x":48.9,"y":0.884},{"s":"endmember 5","x":52.2,"y":0.86},{"s":"endmember 5","x":54.6,"y":0.835},{"s":"endmember 5","x":57,"y":0.774},{"s":"endmember 5","x":58.5,"y":0.713},{"s":"endmember 5","x":60.9,"y":0.664},{"s":"endmember 5","x":65.2,"y":0.632},{"s":"endmember 5","x":67.6,"y":0.59},{"s":"endmember 5","x":70,"y":0.553},{"s":"endmember 5","x":71.4,"y":0.544},{"s":"endmember 5","x":72.8,"y":0.559},{"s":"endmember 5","x":75.2,"y":0.621},{"s":"endmember 5","x":78.6,"y":0.682},{"s":"endmember 5","x":83.4,"y":0.732},{"s":"endmember 5","x":88.2,"y":0.774},{"s":"endmember 5","x":93,"y":0.81},{"s":"endmember 5","x":96.8,"y":0.838},{"s":"endmember 5","x":99.2,"y":0.842},{"s":"endmember 5","x":102.5,"y":0.829},{"s":"endmember 5","x":105.9,"y":0.82},{"s":"endmember 5","x":108.3,"y":0.816},{"s":"endmember 5","x":111.2,"y":0.796},{"s":"endmember 5","x":115.5,"y":0.761},{"s":"endmember 5","x":118.3,"y":0.713},{"s":"endmember 5","x":121.7,"y":0.6},{"s":"endmember 5","x":123.5,"y":0.45},{"s":"endmember 5","x":125.1,"y":0.30},{"s":"endmember 5","x":126.5,"y":0.17},{"s":"endmember 5","x":127.9,"y":0.063},{"s":"endmember 5","x":130.3,"y":0.048},{"s":"endmember 5","x":133.7,"y":0.057},{"s":"endmember 5","x":136.1,"y":0.1},{"s":"endmember 5","x":138.5,"y":0.142},{"s":"endmember 5","x":140.8,"y":0.125},{"s":"endmember 5","x":143.2,"y":0.112},{"s":"endmember 5","x":145.6,"y":0.107},{"s":"endmember 5","x":148,"y":0.136},{"s":"endmember 5","x":151.9,"y":0.21},{"s":"endmember 5","x":155.2,"y":0.272},{"s":"endmember 5","x":157.6,"y":0.309},{"s":"endmember 5","x":160,"y":0.327},{"s":"endmember 5","x":163.4,"y":0.309},{"s":"endmember 5","x":166.2,"y":0.311},{"s":"endmember 5","x":169.6,"y":0.324},{"s":"endmember 5","x":172,"y":0.369},{"s":"endmember 5","x":174.4,"y":0.40},{"s":"endmember 5","x":177.7,"y":0.391},{"s":"endmember 5","x":180.6,"y":0.375},{"s":"endmember 5","x":182.5,"y":0.369},{"s":"endmember 5","x":184.9,"y":0.278},{"s":"endmember 5","x":186.4,"y":0.186},{"s":"endmember 5","x":188.3,"y":0.149},{"s":"endmember 5","x":190.2,"y":0.199},{"s":"endmember 5","x":192.6,"y":0.265},{"s":"endmember 5","x":195,"y":0.283},{"s":"endmember 5","x":196.9,"y":0.26},{"s":"endmember 5","x":199.3,"y":0.222},{"s":"endmember 5","x":201.7,"y":0.265},{"s":"endmember 5","x":204.1,"y":0.345},{"s":"endmember 5","x":206.5,"y":0.384},{"s":"endmember 5","x":209.3,"y":0.388},{"s":"endmember 5","x":211.5,"y":0.392},{"s":"endmember 5","x":213.6,"y":0.406},{"s":"endmember 5","x":216,"y":0.384},{"s":"endmember 5","x":218.9,"y":0.351},{"s":"endmember 5","x":222.3,"y":0.314},{"s":"endmember 5","x":223.7,"y":0.305},{"s":"endmember 5","x":227.1,"y":0.235},{"s":"endmember 5","x":230.4,"y":0.162},{"s":"endmember 5","x":231.8,"y":0.149},{"s":"endmember 5","x":234.2,"y":0.171},{"s":"endmember 5","x":236,"y":0.16},{"s":"endmember 5","x":238.1,"y":0.112},{"s":"endmember 5","x":240.5,"y":0.136},{"s":"endmember 5","x":242.9,"y":0.162},{"s":"endmember 5","x":246.2,"y":0.228},{"s":"endmember 5","x":249.6,"y":0.309},{"s":"endmember 5","x":252,"y":0.40},
{"s":"endmember 6","x":1,"y":0.829},{"s":"endmember 6","x":3.4,"y":0.835},{"s":"endmember 6","x":5.3,"y":0.838},{"s":"endmember 6","x":7.7,"y":0.816},{"s":"endmember 6","x":10.1,"y":0.755},{"s":"endmember 6","x":12.5,"y":0.651},{"s":"endmember 6","x":14.9,"y":0.53},{"s":"endmember 6","x":17.3,"y":0.406},{"s":"endmember 6","x":19.7,"y":0.309},{"s":"endmember 6","x":22.6,"y":0.21},{"s":"endmember 6","x":25,"y":0.143},{"s":"endmember 6","x":26.4,"y":0.127},{"s":"endmember 6","x":28.3,"y":0.149},{"s":"endmember 6","x":29.7,"y":0.217},{"s":"endmember 6","x":32.1,"y":0.338},{"s":"endmember 6","x":35.5,"y":0.461},{"s":"endmember 6","x":38.8,"y":0.57},{"s":"endmember 6","x":41.7,"y":0.64},{"s":"endmember 6","x":46.5,"y":0.688},{"s":"endmember 6","x":51.3,"y":0.737},{"s":"endmember 6","x":54.6,"y":0.761},{"s":"endmember 6","x":57,"y":0.755},{"s":"endmember 6","x":59.4,"y":0.713},{"s":"endmember 6","x":61.8,"y":0.621},{"s":"endmember 6","x":64.2,"y":0.467},{"s":"endmember 6","x":65.7,"y":0.369},{"s":"endmember 6","x":67.6,"y":0.246},{"s":"endmember 6","x":69,"y":0.191},{"s":"endmember 6","x":70.9,"y":0.208},{"s":"endmember 6","x":72.8,"y":0.18},{"s":"endmember 6","x":74.7,"y":0.167},{"s":"endmember 6","x":77.1,"y":0.18},{"s":"endmember 6","x":79.5,"y":0.21},{"s":"endmember 6","x":81.9,"y":0.26},{"s":"endmember 6","x":84.3,"y":0.32},{"s":"endmember 6","x":87.2,"y":0.40},{"s":"endmember 6","x":90.6,"y":0.48},{"s":"endmember 6","x":93.9,"y":0.517},{"s":"endmember 6","x":96.8,"y":0.528},{"s":"endmember 6","x":99.2,"y":0.511},{"s":"endmember 6","x":102.5,"y":0.47},{"s":"endmember 6","x":104,"y":0.50},{"s":"endmember 6","x":105.9,"y":0.56},{"s":"endmember 6","x":107.5,"y":0.575},{"s":"endmember 6","x":110.7,"y":0.627},{"s":"endmember 6","x":114.5,"y":0.651},{"s":"endmember 6","x":117.9,"y":0.649},{"s":"endmember 6","x":120.7,"y":0.614},{"s":"endmember 6","x":125.1,"y":0.566},{"s":"endmember 6","x":126.5,"y":0.559},{"s":"endmember 6","x":129.8,"y":0.467},{"s":"endmember 6","x":132.2,"y":0.406},{"s":"endmember 6","x":134,"y":0.33},{"s":"endmember 6","x":136,"y":0.25},{"s":"endmember 6","x":138,"y":0.17},{"s":"endmember 6","x":140.8,"y":0.094},{"s":"endmember 6","x":144.2,"y":0.051},{"s":"endmember 6","x":148,"y":0.035},{"s":"endmember 6","x":151.4,"y":0.044},{"s":"endmember 6","x":156.2,"y":0.039},{"s":"endmember 6","x":159,"y":0.053},{"s":"endmember 6","x":163.4,"y":0.051},{"s":"endmember 6","x":168.6,"y":0.051},{"s":"endmember 6","x":172.9,"y":0.057},{"s":"endmember 6","x":176.8,"y":0.07},{"s":"endmember 6","x":180.6,"y":0.088},{"s":"endmember 6","x":183,"y":0.097},{"s":"endmember 6","x":187.3,"y":0.096},{"s":"endmember 6","x":192.1,"y":0.092},{"s":"endmember 6","x":196.9,"y":0.096},{"s":"endmember 6","x":201.7,"y":0.097},{"s":"endmember 6","x":205.5,"y":0.1},{"s":"endmember 6","x":208.9,"y":0.105},{"s":"endmember 6","x":211,"y":0.097},{"s":"endmember 6","x":214.1,"y":0.088},{"s":"endmember 6","x":217.5,"y":0.097},{"s":"endmember 6","x":221.3,"y":0.107},{"s":"endmember 6","x":225.6,"y":0.1},{"s":"endmember 6","x":229.4,"y":0.118},{"s":"endmember 6","x":233.3,"y":0.136},{"s":"endmember 6","x":238.1,"y":0.162},{"s":"endmember 6","x":242.9,"y":0.199},{"s":"endmember 6","x":247.2,"y":0.246},{"s":"endmember 6","x":252,"y":0.34},
{"s":"endmember 7","x":1,"y":0.805},{"s":"endmember 7","x":3.4,"y":0.743},{"s":"endmember 7","x":5.8,"y":0.529},{"s":"endmember 7","x":6.7,"y":0.43},{"s":"endmember 7","x":8.2,"y":0.32},{"s":"endmember 7","x":9.6,"y":0.301},{"s":"endmember 7","x":11.1,"y":0.351},{"s":"endmember 7","x":12.5,"y":0.461},{"s":"endmember 7","x":13.9,"y":0.553},{"s":"endmember 7","x":15.5,"y":0.585},{"s":"endmember 7","x":17.3,"y":0.59},{"s":"endmember 7","x":18.7,"y":0.577},{"s":"endmember 7","x":21.1,"y":0.529},{"s":"endmember 7","x":22.6,"y":0.48},{"s":"endmember 7","x":24.5,"y":0.449},{"s":"endmember 7","x":25.9,"y":0.456},{"s":"endmember 7","x":27.3,"y":0.504},{"s":"endmember 7","x":29.7,"y":0.651},{"s":"endmember 7","x":32.1,"y":0.724},{"s":"endmember 7","x":35.5,"y":0.792},{"s":"endmember 7","x":38.8,"y":0.838},{"s":"endmember 7","x":41.7,"y":0.855},{"s":"endmember 7","x":44.1,"y":0.844},{"s":"endmember 7","x":46,"y":0.835},{"s":"endmember 7","x":48.4,"y":0.838},{"s":"endmember 7","x":50.8,"y":0.816},{"s":"endmember 7","x":53.2,"y":0.787},{"s":"endmember 7","x":55.6,"y":0.761},{"s":"endmember 7","x":57,"y":0.737},{"s":"endmember 7","x":58.5,"y":0.737},{"s":"endmember 7","x":60.9,"y":0.70},{"s":"endmember 7","x":63.3,"y":0.614},{"s":"endmember 7","x":65.7,"y":0.529},{"s":"endmember 7","x":68,"y":0.474},{"s":"endmember 7","x":70.4,"y":0.456},{"s":"endmember 7","x":72.4,"y":0.437},{"s":"endmember 7","x":73.8,"y":0.449},{"s":"endmember 7","x":76.2,"y":0.465},{"s":"endmember 7","x":77.6,"y":0.476},{"s":"endmember 7","x":80,"y":0.517},{"s":"endmember 7","x":84.3,"y":0.566},{"s":"endmember 7","x":87.2,"y":0.603},{"s":"endmember 7","x":91.5,"y":0.651},{"s":"endmember 7","x":94.4,"y":0.676},{"s":"endmember 7","x":96.8,"y":0.695},{"s":"endmember 7","x":100.1,"y":0.724},{"s":"endmember 7","x":103.5,"y":0.746},{"s":"endmember 7","x":105.9,"y":0.748},{"s":"endmember 7","x":108.3,"y":0.737},{"s":"endmember 7","x":111.2,"y":0.70},{"s":"endmember 7","x":114.5,"y":0.651},{"s":"endmember 7","x":117.9,"y":0.577},{"s":"endmember 7","x":120.3,"y":0.467},{"s":"endmember 7","x":123.1,"y":0.246},{"s":"endmember 7","x":125.1,"y":0.167},{"s":"endmember 7","x":127.5,"y":0.165},{"s":"endmember 7","x":129.8,"y":0.112},{"s":"endmember 7","x":132.2,"y":0.088},{"s":"endmember 7","x":135.1,"y":0.081},{"s":"endmember 7","x":138.5,"y":0.088},{"s":"endmember 7","x":141.8,"y":0.1},{"s":"endmember 7","x":144.7,"y":0.108},{"s":"endmember 7","x":148,"y":0.121},{"s":"endmember 7","x":149.5,"y":0.14},{"s":"endmember 7","x":151.9,"y":0.125},{"s":"endmember 7","x":153.8,"y":0.116},{"s":"endmember 7","x":156,"y":0.125},{"s":"endmember 7","x":158.6,"y":0.145},{"s":"endmember 7","x":161.4,"y":0.152},{"s":"endmember 7","x":164.8,"y":0.162},{"s":"endmember 7","x":168.1,"y":0.173},{"s":"endmember 7","x":171,"y":0.178},{"s":"endmember 7","x":175.8,"y":0.173},{"s":"endmember 7","x":179.2,"y":0.186},{"s":"endmember 7","x":183,"y":0.208},{"s":"endmember 7","x":187.3,"y":0.217},{"s":"endmember 7","x":191.1,"y":0.228},{"s":"endmember 7","x":195,"y":0.235},{"s":"endmember 7","x":199.3,"y":0.237},{"s":"endmember 7","x":202.1,"y":0.25},{"s":"endmember 7","x":206.9,"y":0.254},{"s":"endmember 7","x":211.7,"y":0.254},{"s":"endmember 7","x":216.5,"y":0.256},{"s":"endmember 7","x":220.8,"y":0.259},{"s":"endmember 7","x":223.2,"y":0.246},{"s":"endmember 7","x":225.5,"y":0.24},{"s":"endmember 7","x":228,"y":0.235},{"s":"endmember 7","x":230.9,"y":0.241},{"s":"endmember 7","x":233.3,"y":0.244},{"s":"endmember 7","x":235.7,"y":0.217},{"s":"endmember 7","x":238.1,"y":0.204},{"s":"endmember 7","x":241.4,"y":0.199},{"s":"endmember 7","x":243.8,"y":0.21},{"s":"endmember 7","x":247.2,"y":0.259},{"s":"endmember 7","x":252,"y":0.382},
{"s":"endmember 8","x":1,"y":0.83},{"s":"endmember 8","x":3.4,"y":0.816},{"s":"endmember 8","x":6.7,"y":0.713},{"s":"endmember 8","x":10.1,"y":0.59},{"s":"endmember 8","x":13,"y":0.48},{"s":"endmember 8","x":16.3,"y":0.437},{"s":"endmember 8","x":17.8,"y":0.467},{"s":"endmember 8","x":20.2,"y":0.59},{"s":"endmember 8","x":22.6,"y":0.713},{"s":"endmember 8","x":24.9,"y":0.805},{"s":"endmember 8","x":28.3,"y":0.86},{"s":"endmember 8","x":32.1,"y":0.89},{"s":"endmember 8","x":35.5,"y":0.897},{"s":"endmember 8","x":38.8,"y":0.899},{"s":"endmember 8","x":43.6,"y":0.897},{"s":"endmember 8","x":48.4,"y":0.879},{"s":"endmember 8","x":51.3,"y":0.86},{"s":"endmember 8","x":53.7,"y":0.805},{"s":"endmember 8","x":55.6,"y":0.713},{"s":"endmember 8","x":56.6,"y":0.59},{"s":"endmember 8","x":57.5,"y":0.45},{"s":"endmember 8","x":59.4,"y":0.351},{"s":"endmember 8","x":62.8,"y":0.314},{"s":"endmember 8","x":65.7,"y":0.324},{"s":"endmember 8","x":70.4,"y":0.39},{"s":"endmember 8","x":72.5,"y":0.393},{"s":"endmember 8","x":74.7,"y":0.388},{"s":"endmember 8","x":78.6,"y":0.449},{"s":"endmember 8","x":81,"y":0.553},{"s":"endmember 8","x":83.4,"y":0.632},{"s":"endmember 8","x":89.6,"y":0.724},{"s":"endmember 8","x":94.4,"y":0.768},{"s":"endmember 8","x":99.2,"y":0.792},{"s":"endmember 8","x":103.5,"y":0.783},{"s":"endmember 8","x":107.3,"y":0.768},{"s":"endmember 8","x":113.5,"y":0.713},{"s":"endmember 8","x":118.3,"y":0.64},{"s":"endmember 8","x":123.1,"y":0.53},{"s":"endmember 8","x":126.5,"y":0.406},{"s":"endmember 8","x":127.2,"y":0.27},{"s":"endmember 8","x":127.9,"y":0.125},{"s":"endmember 8","x":131.3,"y":0.051},{"s":"endmember 8","x":134.6,"y":0.044},{"s":"endmember 8","x":140.8,"y":0.042},{"s":"endmember 8","x":143,"y":0.043},{"s":"endmember 8","x":145.6,"y":0.06},{"s":"endmember 8","x":148,"y":0.10},{"s":"endmember 8","x":150.5,"y":0.125},{"s":"endmember 8","x":153.8,"y":0.118},{"s":"endmember 8","x":156.5,"y":0.112},{"s":"endmember 8","x":158.6,"y":0.116},{"s":"endmember 8","x":163.4,"y":0.162},{"s":"endmember 8","x":168.1,"y":0.235},{"s":"endmember 8","x":170.5,"y":0.244},{"s":"endmember 8","x":172.9,"y":0.235},{"s":"endmember 8","x":176.8,"y":0.2},{"s":"endmember 8","x":179.2,"y":0.213},{"s":"endmember 8","x":181.6,"y":0.21},{"s":"endmember 8","x":184,"y":0.162},{"s":"endmember 8","x":186.4,"y":0.088},{"s":"endmember 8","x":188.7,"y":0.063},{"s":"endmember 8","x":191.1,"y":0.112},{"s":"endmember 8","x":194.5,"y":0.152},{"s":"endmember 8","x":196.9,"y":0.136},{"s":"endmember 8","x":199.3,"y":0.13},{"s":"endmember 8","x":201.7,"y":0.186},{"s":"endmember 8","x":204.5,"y":0.241},{"s":"endmember 8","x":208.9,"y":0.267},{"s":"endmember 8","x":212.7,"y":0.263},{"s":"endmember 8","x":217.5,"y":0.261},{"s":"endmember 8","x":222.3,"y":0.235},{"s":"endmember 8","x":227.1,"y":0.191},{"s":"endmember 8","x":231.8,"y":0.149},{"s":"endmember 8","x":235.2,"y":0.118},{"s":"endmember 8","x":238.1,"y":0.108},{"s":"endmember 8","x":241.4,"y":0.154},{"s":"endmember 8","x":244.8,"y":0.21},{"s":"endmember 8","x":249.6,"y":0.309},{"s":"endmember 8","x":252,"y":0.382}
]
},
"hconcat": [
{
  "width": 526, "height": 598,
  "data": {"name": "a"},
  "layer": [
    {"mark": {"type": "line", "strokeWidth": 1.1, "clip": true},
     "encoding": {
       "x": {"field": "x", "type": "quantitative", "scale": {"domain": [1, 252], "nice": false, "zero": false},
             "axis": {"orient": "bottom", "values": [1, 50, 100, 150, 200, 252], "labelPadding": 19, "labelFlush": false, "title": "(a)", "titleFontSize": 23, "titleFontWeight": "bold", "titlePadding": 19}},
       "y": {"field": "y", "type": "quantitative", "scale": {"domain": [0, 1.1], "nice": false},
             "axis": {"orient": "left", "values": [0, 0.2, 0.4, 0.6, 0.8, 1], "labelExpr": "datum.value == 0 ? '0' : (datum.value == 1 ? '1' : '')", "labelPadding": 18, "labelFlush": false, "title": null}},
       "color": {"field": "s", "type": "nominal",
                 "scale": {"domain": ["endmember 1", "endmember 2", "endmember 3", "endmember 4"], "range": ["#0000ff", "#008000", "#ff0000", "#00bfbf"]},
                 "legend": {"orient": "top-right", "offset": 10, "title": null, "strokeColor": "black", "fillColor": "white", "padding": 3, "symbolType": "stroke", "symbolSize": 2025, "clipHeight": 32.7, "symbolStrokeWidth": 1.3, "labelOffset": 10, "rowPadding": 0, "labelLimit": 0, "cornerRadius": 0, "labelExpr": "datum.label + '\u00a0\u00a0\u00a0'"}}
     }},
    {"mark": {"type": "point", "opacity": 0},
     "encoding": {
       "x": {"field": "x", "type": "quantitative", "axis": {"orient": "top", "values": [1, 50, 100, 150, 200, 252], "labels": false, "title": null}},
       "y": {"field": "y", "type": "quantitative", "axis": {"orient": "right", "values": [0, 0.2, 0.4, 0.6, 0.8, 1], "labels": false, "title": null}}
     }}
  ],
  "resolve": {"axis": {"x": "independent", "y": "independent"}}
},
{
  "width": 524, "height": 598,
  "data": {"name": "b"},
  "layer": [
    {"mark": {"type": "line", "strokeWidth": 1.1, "clip": true},
     "encoding": {
       "x": {"field": "x", "type": "quantitative", "scale": {"domain": [1, 252], "nice": false, "zero": false},
             "axis": {"orient": "bottom", "values": [1, 50, 100, 150, 200, 252], "labelPadding": 19, "labelFlush": false, "title": "(b)", "titleFontSize": 23, "titleFontWeight": "bold", "titlePadding": 19}},
       "y": {"field": "y", "type": "quantitative", "scale": {"domain": [0, 1.1], "nice": false},
             "axis": {"orient": "left", "values": [0, 0.2, 0.4, 0.6, 0.8, 1], "labelExpr": "datum.value == 0 ? '0' : (datum.value == 1 ? '1' : '')", "labelPadding": 18, "labelFlush": false, "title": null}},
       "color": {"field": "s", "type": "nominal",
                 "scale": {"domain": ["endmember 1", "endmember 2", "endmember 3", "endmember 4", "endmember 5", "endmember 6", "endmember 7", "endmember 8"], "range": ["#0000ff", "#008000", "#ff0000", "#00bfbf", "#bf00bf", "#bfbf00", "#404040", "#0000fe"]},
                 "legend": {"orient": "top-right", "offset": 9, "title": null, "strokeColor": "black", "fillColor": "white", "padding": 3, "symbolType": "stroke", "symbolSize": 2025, "clipHeight": 32.6, "symbolStrokeWidth": 1.3, "labelOffset": 10, "rowPadding": 0, "labelLimit": 0, "cornerRadius": 0, "labelExpr": "datum.label + '\u00a0\u00a0\u00a0'"}}
     }},
    {"mark": {"type": "point", "opacity": 0},
     "encoding": {
       "x": {"field": "x", "type": "quantitative", "axis": {"orient": "top", "values": [1, 50, 100, 150, 200, 252], "labels": false, "title": null}},
       "y": {"field": "y", "type": "quantitative", "axis": {"orient": "right", "values": [0, 0.2, 0.4, 0.6, 0.8, 1], "labels": false, "title": null}}
     }}
  ],
  "resolve": {"axis": {"x": "independent", "y": "independent"}}
}
],
"spacing": 82,
"bounds": "flush",
"resolve": {"scale": {"color": "independent"}}
}
